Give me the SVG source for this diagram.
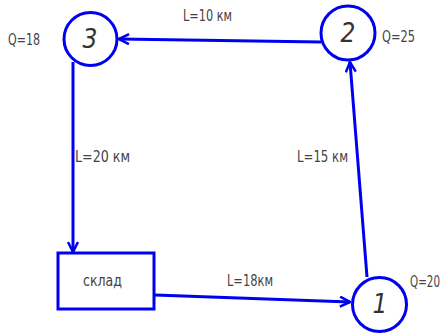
<svg xmlns="http://www.w3.org/2000/svg" width="448" height="333" viewBox="0 0 448 333">
<defs>
<style>
.n{fill:#fff;stroke:#0000f0;stroke-width:3}
.e{fill:none;stroke:#0000f0;stroke-width:3;marker-end:url(#ah)}
.t{font-family:"DejaVu Sans Condensed","Liberation Sans Narrow","Liberation Sans",sans-serif;font-size:15px;fill:#444}
.d{font-family:"DejaVu Sans Condensed","Liberation Sans",sans-serif;font-size:26px;font-style:italic;fill:#333;text-anchor:middle}
</style>
<marker id="ah" viewBox="0 0 12 12" refX="11" refY="6" markerWidth="12" markerHeight="12" markerUnits="userSpaceOnUse" orient="auto">
<path d="M1,1 L11,6 L1,11" fill="none" stroke="#0000f0" stroke-width="2.5"/>
</marker>
</defs>
<rect width="448" height="333" fill="#fff"/>
<g id="connectors">
<path class="e" d="M321,42 L119,39"/>
<path class="e" d="M73,62 L73,252"/>
<path class="e" d="M155,295 L350,302"/>
<path class="e" d="M367,277 L350,62"/>
</g>
<g id="node3">
<circle class="n" cx="90.5" cy="39" r="26.5"/>
<text class="d" x="90" y="48">3</text>
<text class="t" x="8" y="45" textLength="32" lengthAdjust="spacingAndGlyphs">Q=18</text>
</g>
<g id="node2">
<circle class="n" cx="348" cy="33" r="27"/>
<text class="d" x="348" y="42">2</text>
<text class="t" x="382" y="42" textLength="33" lengthAdjust="spacingAndGlyphs">Q=25</text>
</g>
<g id="node1">
<circle class="n" cx="379.5" cy="304.5" r="27"/>
<text class="d" x="380" y="313">1</text>
<text class="t" x="410" y="287" textLength="30" lengthAdjust="spacingAndGlyphs">Q=20</text>
</g>
<g id="sklad">
<rect class="n" x="58" y="253" width="96" height="56"/>
<text class="t" x="83" y="286" textLength="39" lengthAdjust="spacingAndGlyphs">склад</text>
</g>
<g id="labels">
<text class="t" x="183" y="21" textLength="49" lengthAdjust="spacingAndGlyphs">L=10 км</text>
<text class="t" x="75" y="162" textLength="55" lengthAdjust="spacingAndGlyphs">L=20 км</text>
<text class="t" x="297" y="162" textLength="51" lengthAdjust="spacingAndGlyphs">L=15 км</text>
<text class="t" x="227" y="286" textLength="46" lengthAdjust="spacingAndGlyphs">L=18км</text>
</g>
</svg>
